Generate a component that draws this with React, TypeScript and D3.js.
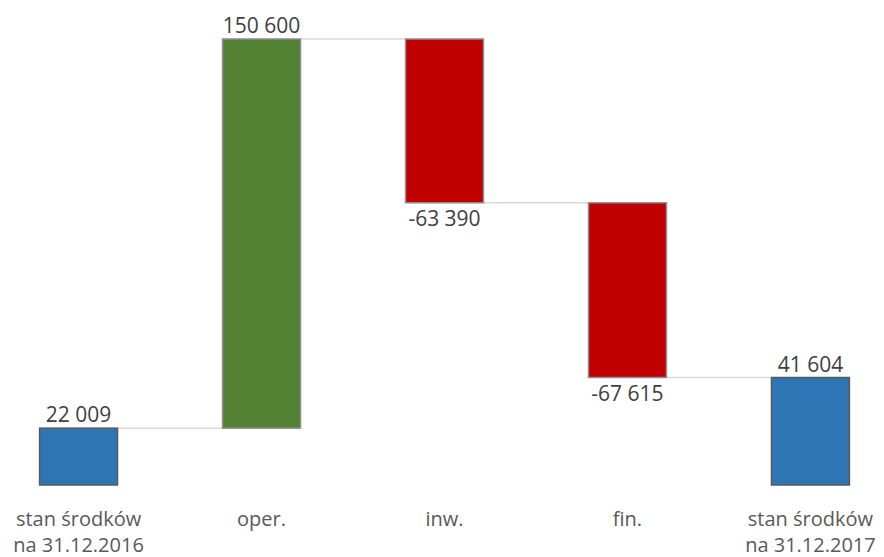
import React from 'react';
import * as d3 from 'd3';

const categories = ['start', 'oper', 'inw', 'fin', 'end'];
const labelLines = [
  ['stan środków', 'na 31.12.2016'],
  ['oper.'],
  ['inw.'],
  ['fin.'],
  ['stan środków', 'na 31.12.2017'],
];
const values = [22009, 150600, -63390, -67615, 41604];
const kinds = ['total', 'delta', 'delta', 'delta', 'total'];

const colors: Record<string, string> = {
  total: '#2E75B6',
  up: '#548235',
  down: '#C00000',
};

const fmt = (v: number) => (v < 0 ? '-' : '') + d3.format(',')(Math.abs(v)).replace(/,/g, ' ');

const width = 884;
const height = 557;

const App: React.FC = () => {
  // running totals for the waterfall
  let run = 0;
  const bars = values.map((v, i) => {
    let y0: number, y1: number;
    if (kinds[i] === 'total') {
      y0 = 0;
      y1 = v;
      run = v;
    } else {
      y0 = run;
      y1 = run + v;
      run = y1;
    }
    return { key: categories[i], value: v, kind: kinds[i], y0, y1, end: run };
  });

  const maxVal = d3.max(bars, (b) => Math.max(b.y0, b.y1)) as number;

  const x = d3
    .scaleBand()
    .domain(categories)
    .range([3, 886])
    .paddingInner(0.574)
    .paddingOuter(0.2);

  const y = d3.scaleLinear().domain([0, maxVal]).range([485, 39]);

  const bw = x.bandwidth();

  return (
    <svg
      width={width}
      height={height}
      style={{ position: 'absolute', left: 0, top: 0 }}
      fontFamily="'Open Sans', sans-serif"
    >
      <rect width={width} height={height} fill="#ffffff" />
      {/* connectors */}
      {bars.slice(0, -1).map((b, i) => {
        const next = bars[i + 1];
        return (
          <line
            key={'c' + i}
            x1={(x(b.key) as number) + bw}
            x2={x(next.key) as number}
            y1={y(b.end)}
            y2={y(b.end)}
            stroke="#d9d9d9"
            strokeWidth={1.5}
          />
        );
      })}
      {bars.map((b) => {
        const top = y(Math.max(b.y0, b.y1));
        const bottom = y(Math.min(b.y0, b.y1));
        const fill = b.kind === 'total' ? colors.total : b.value >= 0 ? colors.up : colors.down;
        const stroke = b.kind === 'total' ? '#595959' : '#8c8c8c';
        const cx = (x(b.key) as number) + bw / 2;
        const labelY = b.value >= 0 ? top - 6 : bottom + 23;
        return (
          <g key={b.key}>
            <rect
              x={x(b.key)}
              y={top}
              width={bw}
              height={bottom - top}
              fill={fill}
              stroke={stroke}
              strokeWidth={1.5}
            />
            <text x={cx} y={labelY} textAnchor="middle" fontSize={21} fill="#404040">
              {fmt(b.value)}
            </text>
          </g>
        );
      })}
      {labelLines.map((lines, i) => {
        const cx = (x(categories[i]) as number) + bw / 2;
        return (
          <text key={'l' + i} x={cx} textAnchor="middle" fontSize={20} fill="#595959">
            {lines.map((ln, j) => (
              <tspan key={j} x={cx} y={526 + j * 26}>
                {ln}
              </tspan>
            ))}
          </text>
        );
      })}
    </svg>
  );
};

export default App;
